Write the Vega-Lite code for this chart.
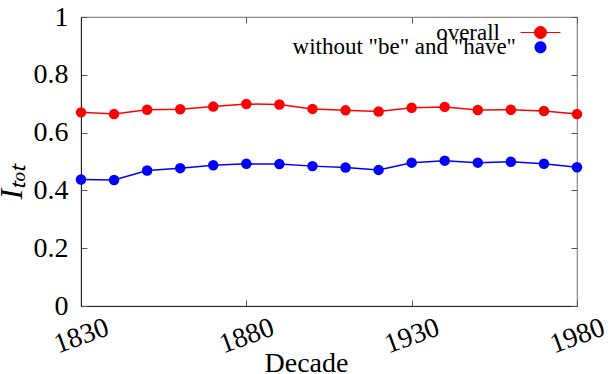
{
  "$schema": "https://vega.github.io/schema/vega-lite/v6.json",
  "width": 496,
  "height": 289,
  "autosize": "none",
  "padding": {"left": 81, "top": 17, "right": 33, "bottom": 68},
  "background": "white",
  "config": {
    "font": "Liberation Serif",
    "view": {"stroke": "#888888", "strokeWidth": 1.2},
    "axis": {"grid": false, "labelFont": "Liberation Serif", "titleFont": "Liberation Serif", "labelColor": "black", "titleColor": "black", "domainColor": "#222", "tickColor": "#555", "titleFontWeight": "normal"},
    "legend": {"labelFont": "Liberation Serif", "title": null, "orient": "none", "padding": 0, "labelFontSize": 23, "labelColor": "black", "labelAlign": "right", "labelLimit": 400, "symbolOffset": 32, "symbolSize": 144, "symbolType": "M-3.33,0L3.33,0M-1,0A1,1,0,1,1,1,0A1,1,0,1,1,-1,0Z", "symbolStrokeWidth": 1}
  },
  "data": {
    "values": [
      {"decade": 1830, "series": "overall", "value": 0.670},
      {"decade": 1840, "series": "overall", "value": 0.664},
      {"decade": 1850, "series": "overall", "value": 0.679},
      {"decade": 1860, "series": "overall", "value": 0.681},
      {"decade": 1870, "series": "overall", "value": 0.690},
      {"decade": 1880, "series": "overall", "value": 0.699},
      {"decade": 1890, "series": "overall", "value": 0.697},
      {"decade": 1900, "series": "overall", "value": 0.682},
      {"decade": 1910, "series": "overall", "value": 0.677},
      {"decade": 1920, "series": "overall", "value": 0.673},
      {"decade": 1930, "series": "overall", "value": 0.686},
      {"decade": 1940, "series": "overall", "value": 0.689},
      {"decade": 1950, "series": "overall", "value": 0.678},
      {"decade": 1960, "series": "overall", "value": 0.679},
      {"decade": 1970, "series": "overall", "value": 0.675},
      {"decade": 1980, "series": "overall", "value": 0.664},
      {"decade": 1830, "series": "without \"be\" and \"have\"", "value": 0.438},
      {"decade": 1840, "series": "without \"be\" and \"have\"", "value": 0.436},
      {"decade": 1850, "series": "without \"be\" and \"have\"", "value": 0.469},
      {"decade": 1860, "series": "without \"be\" and \"have\"", "value": 0.477},
      {"decade": 1870, "series": "without \"be\" and \"have\"", "value": 0.487},
      {"decade": 1880, "series": "without \"be\" and \"have\"", "value": 0.492},
      {"decade": 1890, "series": "without \"be\" and \"have\"", "value": 0.491},
      {"decade": 1900, "series": "without \"be\" and \"have\"", "value": 0.484},
      {"decade": 1910, "series": "without \"be\" and \"have\"", "value": 0.479},
      {"decade": 1920, "series": "without \"be\" and \"have\"", "value": 0.471},
      {"decade": 1930, "series": "without \"be\" and \"have\"", "value": 0.496},
      {"decade": 1940, "series": "without \"be\" and \"have\"", "value": 0.503},
      {"decade": 1950, "series": "without \"be\" and \"have\"", "value": 0.496},
      {"decade": 1960, "series": "without \"be\" and \"have\"", "value": 0.499},
      {"decade": 1970, "series": "without \"be\" and \"have\"", "value": 0.492},
      {"decade": 1980, "series": "without \"be\" and \"have\"", "value": 0.480}
    ]
  },
  "layer": [
    {
      "mark": {"type": "line", "strokeWidth": 1.5},
      "encoding": {
        "x": {"field": "decade", "type": "quantitative", "scale": {"domain": [1830, 1980], "nice": false, "zero": false},
          "axis": {"orient": "bottom", "title": "Decade", "values": [1830, 1880, 1930, 1980], "format": "d", "labelFont": "Liberation Serif", "labelFontSize": 28, "labelAngle": -20, "labelAlign": "center", "labelBaseline": "middle", "tickSize": -6, "labelPadding": 36, "titleFont": "Liberation Serif", "titleFontSize": 28, "titleX": 225, "titleY": 65, "titleBaseline": "alphabetic"}},
        "y": {"field": "value", "type": "quantitative", "scale": {"domain": [0, 1], "nice": false},
          "axis": {"orient": "left", "title": "Iₜₒₜ", "titleFont": "Liberation Serif", "titleFontStyle": "italic", "titleFontSize": 32, "values": [0, 0.2, 0.4, 0.6, 0.8, 1], "format": "~g", "labelFont": "Liberation Serif", "labelFontSize": 28, "tickSize": -6, "labelPadding": 19, "titleAngle": -90, "titleX": -60, "titleY": 164, "titleBaseline": "alphabetic", "titleAlign": "center"}},
        "stroke": {"field": "series", "type": "nominal", "scale": {"domain": ["overall", "without \"be\" and \"have\""], "range": ["#ff0000", "#0000ff"]},
          "legend": {"values": ["overall"], "legendX": 416, "legendY": 4, "labelOffset": -52,
            "encode": {"symbols": {"update": {"stroke": {"value": "#ff0000"}, "fill": {"value": "#ff0000"}, "strokeWidth": {"value": 1}, "opacity": {"value": 1}}}}}}
      }
    },
    {
      "mark": {"type": "point", "filled": true, "size": 110, "opacity": 1},
      "encoding": {
        "x": {"field": "decade", "type": "quantitative", "axis": {"orient": "top", "title": null, "labels": false, "domain": false, "values": [1830, 1880, 1930, 1980], "tickSize": -6}},
        "y": {"field": "value", "type": "quantitative", "axis": {"orient": "right", "title": null, "labels": false, "domain": false, "values": [0, 0.2, 0.4, 0.6, 0.8, 1], "tickSize": -6}},
        "fill": {"field": "series", "type": "nominal", "scale": {"domain": ["without \"be\" and \"have\"", "overall"], "range": ["#0000ff", "#ff0000"]},
          "legend": {"values": ["without \"be\" and \"have\""], "legendX": 416, "legendY": 18.7, "labelOffset": -36,
            "encode": {"symbols": {"update": {"stroke": {"value": "#0000ff"}, "fill": {"value": "#0000ff"}, "strokeWidth": {"value": 1}, "strokeOpacity": {"value": 1}, "opacity": {"value": 1}}}}}}
      }
    }
  ],
  "resolve": {"axis": {"x": "independent", "y": "independent"}}
}
